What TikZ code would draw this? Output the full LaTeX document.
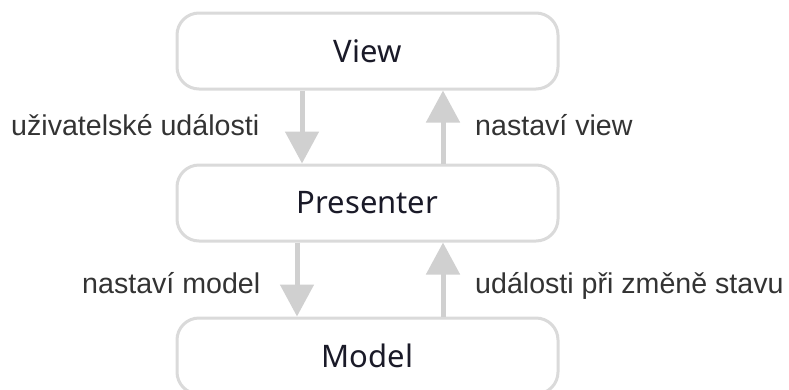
\documentclass[tikz,border=0pt]{standalone}
\usepackage{fontspec}
\setmainfont{Liberation Sans}
\newfontfamily\boxfont{Noto Sans}
\usetikzlibrary{arrows.meta}
\definecolor{boxline}{RGB}{218,218,218}
\definecolor{arrowgray}{RGB}{208,208,208}
\definecolor{boxtext}{RGB}{26,26,40}
\definecolor{labeltext}{RGB}{51,51,51}
\tikzset{
  layer/.style={draw=boxline, line width=3pt, rounded corners=22pt, fill=white,
    minimum width=381pt, minimum height=76pt, inner sep=0pt,
    font=\boxfont\fontsize{31}{36}\selectfont, text=boxtext},
  flow/.style={draw=arrowgray, line width=5pt,
    -{Triangle[length=32pt,width=33pt]}},
  caption/.style={font=\fontsize{28.6}{34}\selectfont, text=labeltext,
    inner sep=0pt, anchor=base west}
}
\begin{document}
\begin{tikzpicture}[x=1pt,y=-1pt]
  \useasboundingbox (0,0) rectangle (789,389);
  \begin{scope}
    \clip (0,0) rectangle (789,389);
    \node[layer] (view) at (367.5,51) {View};
    \node[layer] (presenter) at (367.5,203) {Presenter};
    \node[layer] (model) at (367.5,356) {Model};
  \end{scope}

  % View <-> Presenter
  \draw[flow] (view.south -| 302,0) -- (presenter.north -| 302,0);
  \draw[flow] (presenter.north -| 443,0) -- (view.south -| 443,0);
  % Presenter <-> Model
  \draw[flow] (presenter.south -| 297,0) -- (model.north -| 297,0);
  \draw[flow] (model.north -| 443,0) -- (presenter.south -| 443,0);

  \node[caption] (l1) at (11,135) {uživatelské události};
  \node[caption] (l2) at (475,135) {nastaví view};
  \node[caption] (l3) at (82,293) {nastaví model};
  \node[caption] (l4) at (475,293) {události při změně stavu};
\end{tikzpicture}
\end{document}
